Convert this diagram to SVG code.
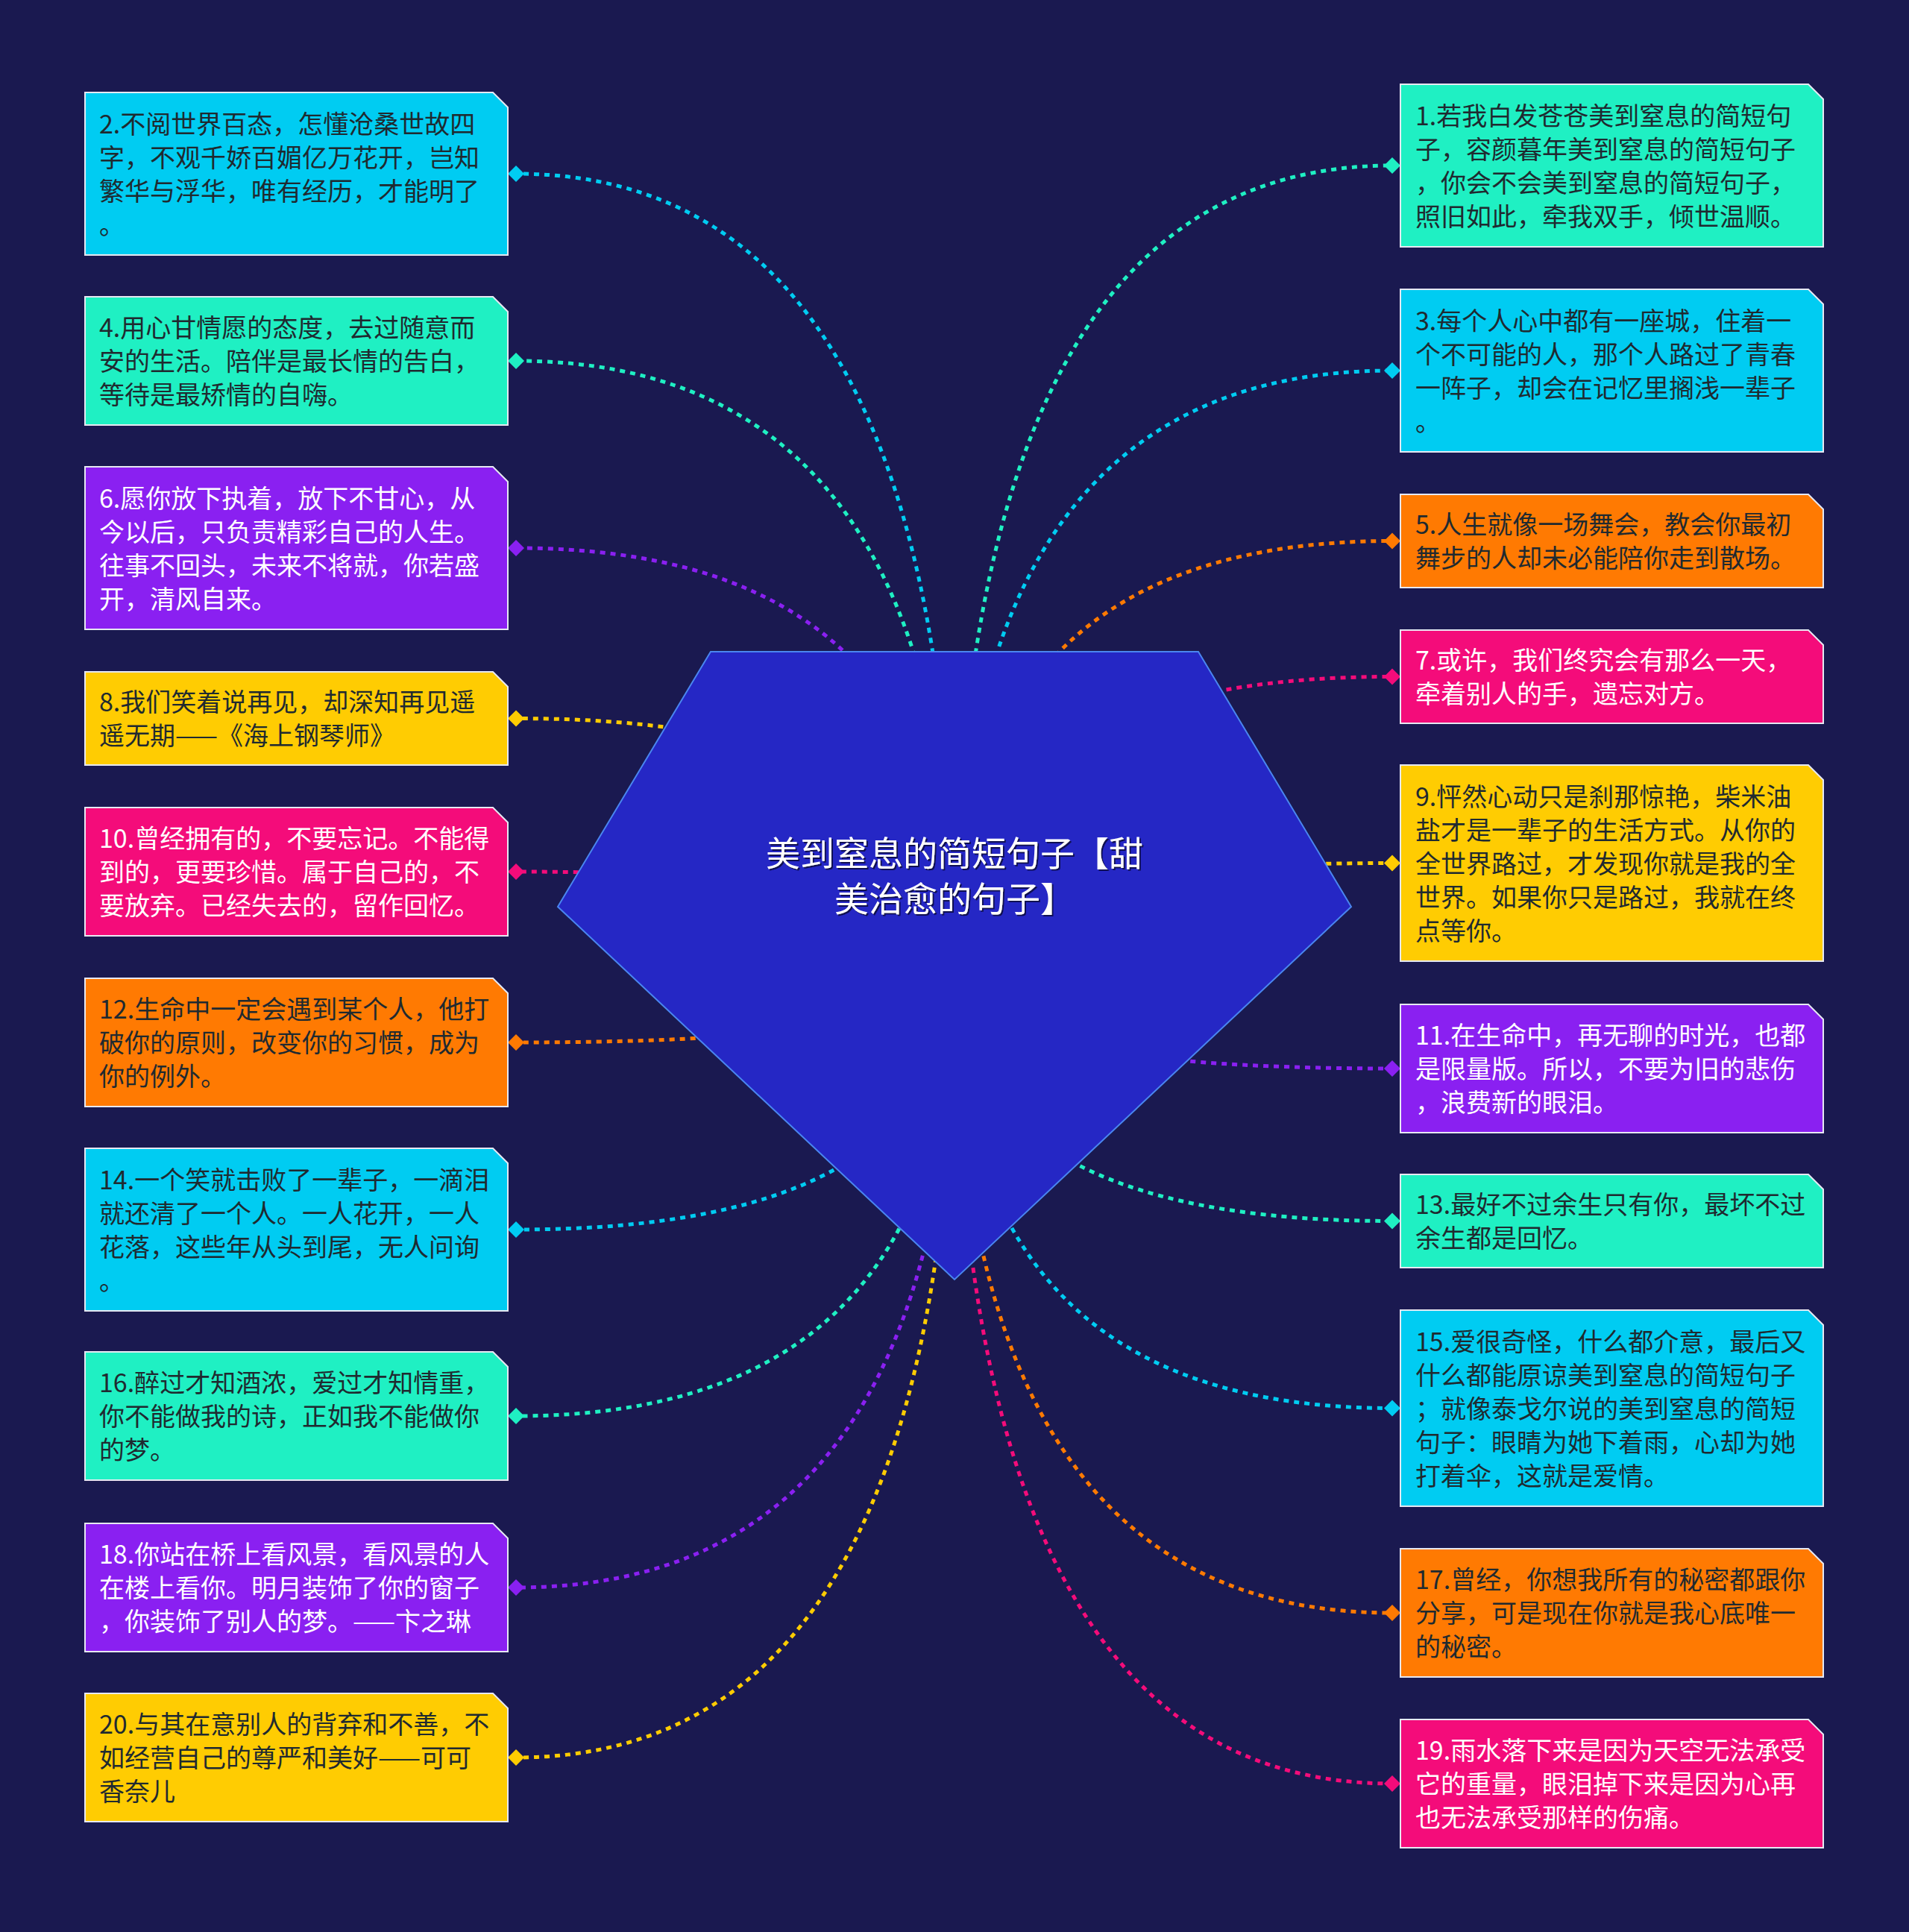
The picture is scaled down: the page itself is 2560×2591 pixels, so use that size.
<svg xmlns="http://www.w3.org/2000/svg" width="2560" height="2591" viewBox="0 0 2560 2591">
<defs>
<style>
.bg{fill:#1a1950}
.node{stroke:#e6e8f2;stroke-width:2}
.teal{fill:#1ff0c3}
.cyan{fill:#00ccf2}
.purple{fill:#8a20f1}
.yellow{fill:#ffcc02}
.pink{fill:#f40c7a}
.orange{fill:#ff7a02}
.t{font-family:"Noto Sans CJK SC","Noto Sans",sans-serif;font-size:34px}
.dk{fill:#1f2a30}
.lt{fill:#ffffff}
.c{fill:none;stroke-width:5;stroke-dasharray:7 7}
.sc-teal{stroke:#1ff0c3}.sc-cyan{stroke:#00ccf2}.sc-purple{stroke:#8a20f1}.sc-yellow{stroke:#ffcc02}.sc-pink{stroke:#f40c7a}.sc-orange{stroke:#ff7a02}
.title{font-family:"Noto Sans CJK SC","Noto Sans",sans-serif;font-size:46px;fill:#ffffff;text-anchor:middle}
</style>
<filter id="ts" x="-10%" y="-30%" width="120%" height="160%">
<feDropShadow dx="2" dy="2" stdDeviation="0.6" flood-color="#0b0b45" flood-opacity="0.9"/>
</filter>
</defs>
<rect class="bg" x="0" y="0" width="2560" height="2591"/>

<g id="connectors">
<path class="c sc-cyan" d="M1280 1295 Q1280 233 692 233"/>
<path class="c sc-teal" d="M1280 1295 Q1280 484 692 484"/>
<path class="c sc-purple" d="M1280 1295 Q1280 735 692 735"/>
<path class="c sc-yellow" d="M1280 1295 Q1280 963.5 692 963.5"/>
<path class="c sc-pink" d="M1280 1295 Q1280 1169 692 1169"/>
<path class="c sc-orange" d="M1280 1295 Q1280 1398 692 1398"/>
<path class="c sc-cyan" d="M1280 1295 Q1280 1649 692 1649"/>
<path class="c sc-teal" d="M1280 1295 Q1280 1899 692 1899"/>
<path class="c sc-purple" d="M1280 1295 Q1280 2129 692 2129"/>
<path class="c sc-yellow" d="M1280 1295 Q1280 2357 692 2357"/>
<path class="c sc-teal" d="M1280 1295 Q1280 222 1867 222"/>
<path class="c sc-cyan" d="M1280 1295 Q1280 497 1867 497"/>
<path class="c sc-orange" d="M1280 1295 Q1280 725.5 1867 725.5"/>
<path class="c sc-pink" d="M1280 1295 Q1280 907.5 1867 907.5"/>
<path class="c sc-yellow" d="M1280 1295 Q1280 1157.5 1867 1157.5"/>
<path class="c sc-purple" d="M1280 1295 Q1280 1433 1867 1433"/>
<path class="c sc-teal" d="M1280 1295 Q1280 1637.5 1867 1637.5"/>
<path class="c sc-cyan" d="M1280 1295 Q1280 1888.5 1867 1888.5"/>
<path class="c sc-orange" d="M1280 1295 Q1280 2163 1867 2163"/>
<path class="c sc-pink" d="M1280 1295 Q1280 2392 1867 2392"/>
<polygon class="cyan" points="681,233 692,222 703,233 692,244"/>
<polygon class="teal" points="681,484 692,473 703,484 692,495"/>
<polygon class="purple" points="681,735 692,724 703,735 692,746"/>
<polygon class="yellow" points="681,963.5 692,952.5 703,963.5 692,974.5"/>
<polygon class="pink" points="681,1169 692,1158 703,1169 692,1180"/>
<polygon class="orange" points="681,1398 692,1387 703,1398 692,1409"/>
<polygon class="cyan" points="681,1649 692,1638 703,1649 692,1660"/>
<polygon class="teal" points="681,1899 692,1888 703,1899 692,1910"/>
<polygon class="purple" points="681,2129 692,2118 703,2129 692,2140"/>
<polygon class="yellow" points="681,2357 692,2346 703,2357 692,2368"/>
<polygon class="teal" points="1856,222 1867,211 1878,222 1867,233"/>
<polygon class="cyan" points="1856,497 1867,486 1878,497 1867,508"/>
<polygon class="orange" points="1856,725.5 1867,714.5 1878,725.5 1867,736.5"/>
<polygon class="pink" points="1856,907.5 1867,896.5 1878,907.5 1867,918.5"/>
<polygon class="yellow" points="1856,1157.5 1867,1146.5 1878,1157.5 1867,1168.5"/>
<polygon class="purple" points="1856,1433 1867,1422 1878,1433 1867,1444"/>
<polygon class="teal" points="1856,1637.5 1867,1626.5 1878,1637.5 1867,1648.5"/>
<polygon class="cyan" points="1856,1888.5 1867,1877.5 1878,1888.5 1867,1899.5"/>
<polygon class="orange" points="1856,2163 1867,2152 1878,2163 1867,2174"/>
<polygon class="pink" points="1856,2392 1867,2381 1878,2392 1867,2403"/>
</g>

<g id="root">
<polygon points="953,874 1607,874 1812,1216 1280,1716 748,1216" fill="#2527c5" stroke="#4a86f0" stroke-width="2"/>
<text class="title" filter="url(#ts)"><tspan x="1280" y="1161">美到窒息的简短句子【甜</tspan><tspan x="1280" y="1222">美治愈的句子】</tspan></text>
</g>

<g id="node2">
<path class="node cyan" d="M114 124 H661 L681 144 V342 H114 Z"/>
<text class="t dk"><tspan x="133" y="178.5">2.不阅世界百态，怎懂沧桑世故四</tspan><tspan x="133" y="223.5">字，不观千娇百媚亿万花开，岂知</tspan><tspan x="133" y="268.5">繁华与浮华，唯有经历，才能明了</tspan><tspan x="133" y="313.5">。</tspan></text>
</g>
<g id="node4">
<path class="node teal" d="M114 398 H661 L681 418 V570 H114 Z"/>
<text class="t dk"><tspan x="133" y="452">4.用心甘情愿的态度，去过随意而</tspan><tspan x="133" y="497">安的生活。陪伴是最长情的告白，</tspan><tspan x="133" y="542">等待是最矫情的自嗨。</tspan></text>
</g>
<g id="node6">
<path class="node purple" d="M114 626 H661 L681 646 V844 H114 Z"/>
<text class="t lt"><tspan x="133" y="680.5">6.愿你放下执着，放下不甘心，从</tspan><tspan x="133" y="725.5">今以后，只负责精彩自己的人生。</tspan><tspan x="133" y="770.5">往事不回头，未来不将就，你若盛</tspan><tspan x="133" y="815.5">开，清风自来。</tspan></text>
</g>
<g id="node8">
<path class="node yellow" d="M114 901 H661 L681 921 V1026 H114 Z"/>
<text class="t dk"><tspan x="133" y="954">8.我们笑着说再见，却深知再见遥</tspan><tspan x="133" y="999">遥无期——《海上钢琴师》</tspan></text>
</g>
<g id="node10">
<path class="node pink" d="M114 1083 H661 L681 1103 V1255 H114 Z"/>
<text class="t lt"><tspan x="133" y="1137">10.曾经拥有的，不要忘记。不能得</tspan><tspan x="133" y="1182">到的，更要珍惜。属于自己的，不</tspan><tspan x="133" y="1227">要放弃。已经失去的，留作回忆。</tspan></text>
</g>
<g id="node12">
<path class="node orange" d="M114 1312 H661 L681 1332 V1484 H114 Z"/>
<text class="t dk"><tspan x="133" y="1366">12.生命中一定会遇到某个人，他打</tspan><tspan x="133" y="1411">破你的原则，改变你的习惯，成为</tspan><tspan x="133" y="1456">你的例外。</tspan></text>
</g>
<g id="node14">
<path class="node cyan" d="M114 1540 H661 L681 1560 V1758 H114 Z"/>
<text class="t dk"><tspan x="133" y="1594.5">14.一个笑就击败了一辈子，一滴泪</tspan><tspan x="133" y="1639.5">就还清了一个人。一人花开，一人</tspan><tspan x="133" y="1684.5">花落，这些年从头到尾，无人问询</tspan><tspan x="133" y="1729.5">。</tspan></text>
</g>
<g id="node16">
<path class="node teal" d="M114 1813 H661 L681 1833 V1985 H114 Z"/>
<text class="t dk"><tspan x="133" y="1867">16.醉过才知酒浓，爱过才知情重，</tspan><tspan x="133" y="1912">你不能做我的诗，正如我不能做你</tspan><tspan x="133" y="1957">的梦。</tspan></text>
</g>
<g id="node18">
<path class="node purple" d="M114 2043 H661 L681 2063 V2215 H114 Z"/>
<text class="t lt"><tspan x="133" y="2097">18.你站在桥上看风景，看风景的人</tspan><tspan x="133" y="2142">在楼上看你。明月装饰了你的窗子</tspan><tspan x="133" y="2187">，你装饰了别人的梦。——卞之琳</tspan></text>
</g>
<g id="node20">
<path class="node yellow" d="M114 2271 H661 L681 2291 V2443 H114 Z"/>
<text class="t dk"><tspan x="133" y="2325">20.与其在意别人的背弃和不善，不</tspan><tspan x="133" y="2370">如经营自己的尊严和美好——可可</tspan><tspan x="133" y="2415">香奈儿</tspan></text>
</g>

<g id="node1">
<path class="node teal" d="M1878 113 H2425 L2445 133 V331 H1878 Z"/>
<text class="t dk"><tspan x="1898" y="167.5">1.若我白发苍苍美到窒息的简短句</tspan><tspan x="1898" y="212.5">子，容颜暮年美到窒息的简短句子</tspan><tspan x="1898" y="257.5">，你会不会美到窒息的简短句子，</tspan><tspan x="1898" y="302.5">照旧如此，牵我双手，倾世温顺。</tspan></text>
</g>
<g id="node3">
<path class="node cyan" d="M1878 388 H2425 L2445 408 V606 H1878 Z"/>
<text class="t dk"><tspan x="1898" y="442.5">3.每个人心中都有一座城，住着一</tspan><tspan x="1898" y="487.5">个不可能的人，那个人路过了青春</tspan><tspan x="1898" y="532.5">一阵子，却会在记忆里搁浅一辈子</tspan><tspan x="1898" y="577.5">。</tspan></text>
</g>
<g id="node5">
<path class="node orange" d="M1878 663 H2425 L2445 683 V788 H1878 Z"/>
<text class="t dk"><tspan x="1898" y="716">5.人生就像一场舞会，教会你最初</tspan><tspan x="1898" y="761">舞步的人却未必能陪你走到散场。</tspan></text>
</g>
<g id="node7">
<path class="node pink" d="M1878 845 H2425 L2445 865 V970 H1878 Z"/>
<text class="t lt"><tspan x="1898" y="898">7.或许，我们终究会有那么一天，</tspan><tspan x="1898" y="943">牵着别人的手，遗忘对方。</tspan></text>
</g>
<g id="node9">
<path class="node yellow" d="M1878 1026 H2425 L2445 1046 V1289 H1878 Z"/>
<text class="t dk"><tspan x="1898" y="1080.5">9.怦然心动只是刹那惊艳，柴米油</tspan><tspan x="1898" y="1125.5">盐才是一辈子的生活方式。从你的</tspan><tspan x="1898" y="1170.5">全世界路过，才发现你就是我的全</tspan><tspan x="1898" y="1215.5">世界。如果你只是路过，我就在终</tspan><tspan x="1898" y="1260.5">点等你。</tspan></text>
</g>
<g id="node11">
<path class="node purple" d="M1878 1347 H2425 L2445 1367 V1519 H1878 Z"/>
<text class="t lt"><tspan x="1898" y="1401">11.在生命中，再无聊的时光，也都</tspan><tspan x="1898" y="1446">是限量版。所以，不要为旧的悲伤</tspan><tspan x="1898" y="1491">，浪费新的眼泪。</tspan></text>
</g>
<g id="node13">
<path class="node teal" d="M1878 1575 H2425 L2445 1595 V1700 H1878 Z"/>
<text class="t dk"><tspan x="1898" y="1628">13.最好不过余生只有你，最坏不过</tspan><tspan x="1898" y="1673">余生都是回忆。</tspan></text>
</g>
<g id="node15">
<path class="node cyan" d="M1878 1757 H2425 L2445 1777 V2020 H1878 Z"/>
<text class="t dk"><tspan x="1898" y="1811.5">15.爱很奇怪，什么都介意，最后又</tspan><tspan x="1898" y="1856.5">什么都能原谅美到窒息的简短句子</tspan><tspan x="1898" y="1901.5">；就像泰戈尔说的美到窒息的简短</tspan><tspan x="1898" y="1946.5">句子：眼睛为她下着雨，心却为她</tspan><tspan x="1898" y="1991.5">打着伞，这就是爱情。</tspan></text>
</g>
<g id="node17">
<path class="node orange" d="M1878 2077 H2425 L2445 2097 V2249 H1878 Z"/>
<text class="t dk"><tspan x="1898" y="2131">17.曾经，你想我所有的秘密都跟你</tspan><tspan x="1898" y="2176">分享，可是现在你就是我心底唯一</tspan><tspan x="1898" y="2221">的秘密。</tspan></text>
</g>
<g id="node19">
<path class="node pink" d="M1878 2306 H2425 L2445 2326 V2478 H1878 Z"/>
<text class="t lt"><tspan x="1898" y="2360">19.雨水落下来是因为天空无法承受</tspan><tspan x="1898" y="2405">它的重量，眼泪掉下来是因为心再</tspan><tspan x="1898" y="2450">也无法承受那样的伤痛。</tspan></text>
</g>
</svg>
